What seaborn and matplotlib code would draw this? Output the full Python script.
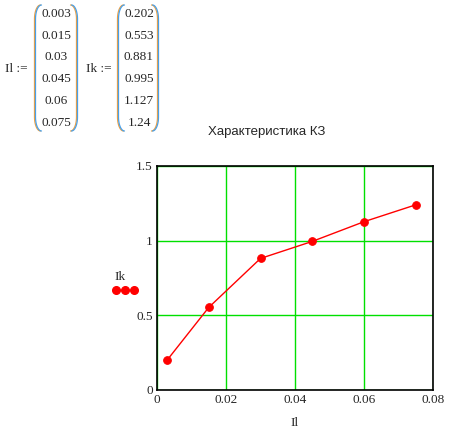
import numpy as np
import pandas as pd
import matplotlib
matplotlib.use("Agg")
import matplotlib.pyplot as plt
import seaborn as sns

# data read from the worksheet
Il = [0.003, 0.015, 0.03, 0.045, 0.06, 0.075]
Ik = [0.202, 0.553, 0.881, 0.995, 1.127, 1.24]
Il_txt = ["0.003", "0.015", "0.03", "0.045", "0.06", "0.075"]
Ik_txt = ["0.202", "0.553", "0.881", "0.995", "1.127", "1.24"]
xticks = [0, 0.02, 0.04, 0.06, 0.08]
yticks = [0, 0.5, 1, 1.5]
xtick_labels = ["0", "0.02", "0.04", "0.06", "0.08"]
ytick_labels = ["0", "0.5", "1", "1.5"]

W, H = 458, 434
sns.set_style("white")
plt.rcParams["font.family"] = ["Liberation Serif", "DejaVu Serif"]

fig = plt.figure(figsize=(W / 100, H / 100), dpi=100)


def fx(x):
    return x / W


def fy(y):
    return 1 - y / H


# matrices at the top left
rows_y = [14, 36, 57, 79, 101, 123]


def paren(x0, top, bot, side):
    # side = +1 for "(", -1 for ")"; x0 = outer edge
    t = np.linspace(0, np.pi / 2, 12)
    r_x, r_y = 6, 14
    xs_top = x0 + side * r_x * (1 - np.sin(t[::-1]) * 0 - np.cos(t[::-1]) * 0) * 0
    # top curve from inner tip to outer vertical
    xt = x0 + side * r_x * (1 - np.sin(t))
    yt = top + r_y * (1 - np.cos(t))
    xb = x0 + side * r_x * (1 - np.sin(t[::-1]))
    yb = bot - r_y * (1 - np.cos(t[::-1]))
    xs = np.concatenate([xt, xb])
    ys = np.concatenate([yt, yb])
    return xs, ys


def matrix(name, name_x, col_x, left, right, vals):
    fig.text(fx(name_x), fy(69), name + " :=", ha="left", va="center", fontsize=9.5)
    for y, v in zip(rows_y, vals):
        fig.text(fx(col_x), fy(y), v, ha="center", va="center", fontsize=9.5)
    for x0, side in [(left, 1), (right, -1)]:
        xs, ys = paren(x0, 5, 131, side)
        for dx, col in [(-0.5, "#f0a040"), (0.5, "#4aa0e8")]:
            fig.add_artist(plt.Line2D([fx(v + dx) for v in xs], [fy(v) for v in ys],
                                      color=col, lw=0.9))


matrix("Il", 5, 56, 35, 77, Il_txt)
matrix("Ik", 86, 139, 118, 158, Ik_txt)

# chart
ax = fig.add_axes([fx(157), fy(390), fx(433) - fx(157), fy(166) - fy(390)])
df = pd.DataFrame({"Il": Il, "Ik": Ik})
sns.lineplot(data=df, x="Il", y="Ik", ax=ax, color="red", lw=1,
             marker="o", markersize=5.5, markeredgecolor="red")

ax.set_xlim(0, 0.08)
ax.set_ylim(0, 1.5)
ax.set_xticks(xticks)
ax.set_xticklabels(xtick_labels, fontsize=9.5)
ax.set_yticks(yticks)
ax.set_yticklabels(ytick_labels, fontsize=9.5)
ax.tick_params(length=0, pad=3)
ax.grid(True, color="#00e000", lw=1)
ax.set_axisbelow(True)
for s in ax.spines.values():
    s.set_color("black")
    s.set_linewidth(1.2)
ax.set_xlabel("Il", fontsize=9.5, labelpad=8)
ax.set_ylabel("")

fig.text(fx(267), fy(132), "Характеристика КЗ", ha="center", va="center",
         fontsize=9.5, family=["Liberation Sans", "DejaVu Sans"])

# legend-like label on the left
fig.text(fx(114), fy(277), "Ik", ha="left", va="center", fontsize=9.5)
fig.add_artist(plt.Line2D([fx(116), fx(125), fx(134)], [fy(290)] * 3,
                          color="red", lw=1, marker="o", markersize=5.5))

fig.savefig("out.png", dpi=100)
